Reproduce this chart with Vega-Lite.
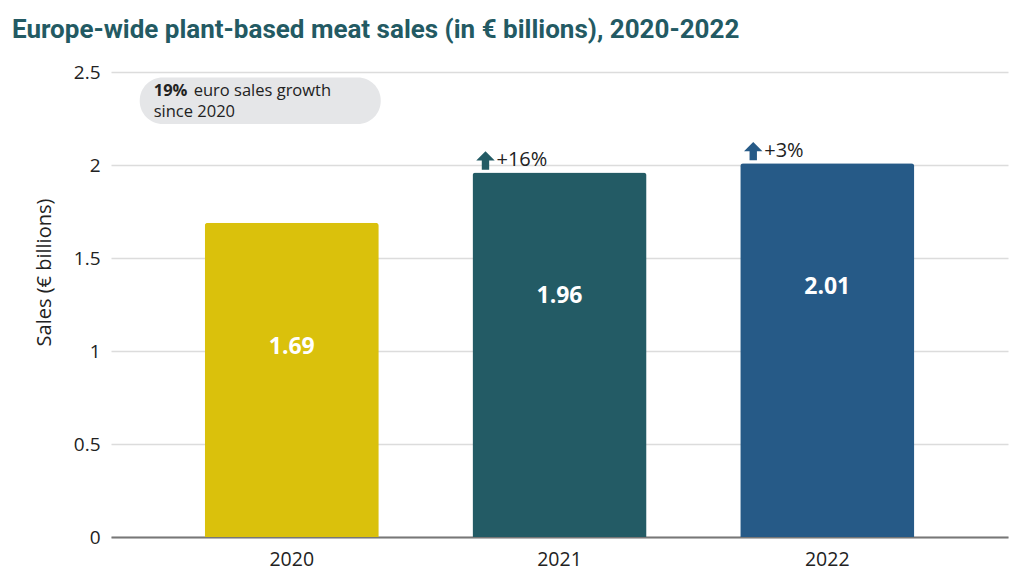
{
  "$schema": "https://vega.github.io/schema/vega-lite/v6.json",
  "width": 897,
  "height": 465,
  "autosize": {"type": "none"},
  "padding": {"left": 111, "top": 72, "right": 16, "bottom": 38},
  "background": "white",
  "title": {
    "text": "Europe-wide plant-based meat sales (in € billions), 2020-2022",
    "anchor": "start",
    "frame": "group",
    "dx": -99,
    "offset": 20,
    "font": "Roboto",
    "fontSize": 26,
    "fontWeight": "bold",
    "color": "#235a63"
  },
  "config": {
    "view": {"stroke": null},
    "font": "Open Sans",
    "axis": {
      "labelFont": "Open Sans",
      "titleFont": "Open Sans",
      "labelColor": "#222222",
      "titleColor": "#222222"
    }
  },
  "data": {
    "values": [
      {"year": "2020", "sales": 1.69, "label": "1.69", "change": null},
      {"year": "2021", "sales": 1.96, "label": "1.96", "change": "+16%"},
      {"year": "2022", "sales": 2.01, "label": "2.01", "change": "+3%"}
    ]
  },
  "encoding": {
    "x": {
      "field": "year",
      "type": "nominal",
      "scale": {"paddingInner": 0.35, "paddingOuter": 0.35},
      "axis": {
        "title": null,
        "labelAngle": 0,
        "labelFontSize": 19.5,
        "labelPadding": 13,
        "ticks": false,
        "domain": true,
        "domainColor": "#777777",
        "domainWidth": 2
      }
    }
  },
  "layer": [
    {
      "mark": {"type": "bar", "cornerRadiusTopLeft": 3, "cornerRadiusTopRight": 3},
      "encoding": {
        "y": {
          "field": "sales",
          "type": "quantitative",
          "scale": {"domain": [0, 2.5], "nice": false},
          "axis": {
            "title": "Sales (€ billions)",
            "titleFontSize": 20,
            "titleFontWeight": "normal",
            "titlePadding": 19,
            "titleY": 200,
            "values": [0, 0.5, 1, 1.5, 2, 2.5],
            "labelFontSize": 19,
            "labelPadding": 11,
            "ticks": false,
            "domain": false,
            "gridColor": "#dcdcdc",
            "gridWidth": 1.5,
            "format": "~g"
          }
        },
        "color": {
          "field": "year",
          "type": "nominal",
          "scale": {"domain": ["2020", "2021", "2022"], "range": ["#dac10c", "#235b65", "#265a87"]},
          "legend": null
        }
      }
    },
    {
      "mark": {"type": "text", "color": "white", "fontWeight": "bold", "fontSize": 23, "font": "Open Sans", "baseline": "middle", "dy": 124},
      "encoding": {
        "y": {"field": "sales", "type": "quantitative"},
        "text": {"field": "label"}
      }
    },
    {
      "transform": [{"filter": "datum.change != null"}],
      "mark": {
        "type": "point",
        "shape": "M0,-1 L1,0 L0.4,0 L0.4,1 L-0.4,1 L-0.4,0 L-1,0 Z",
        "filled": true,
        "opacity": 1,
        "size": 340,
        "xOffset": 13,
        "yOffset": -12
      },
      "encoding": {
        "x": {"field": "year", "type": "nominal", "bandPosition": 0},
        "y": {"field": "sales", "type": "quantitative"},
        "color": {"field": "year", "type": "nominal", "legend": null}
      }
    },
    {
      "transform": [{"filter": "datum.change != null"}],
      "mark": {"type": "text", "align": "left", "baseline": "middle", "fontSize": 20, "font": "Open Sans", "color": "#222222", "dx": 24, "dy": -12},
      "encoding": {
        "x": {"field": "year", "type": "nominal", "bandPosition": 0},
        "y": {"field": "sales", "type": "quantitative"},
        "text": {"field": "change"}
      }
    },
    {
      "data": {"values": [{"note": "box"}]},
      "mark": {"type": "rect", "color": "#e5e6e8", "cornerRadius": 23, "xOffset": -65, "x2Offset": 89},
      "encoding": {
        "x": {"datum": "2020", "type": "nominal", "bandPosition": 0},
        "x2": {"datum": "2020"},
        "y": {"datum": 2.47, "type": "quantitative"},
        "y2": {"datum": 2.22}
      }
    },
    {
      "data": {"values": [{"t": "19%"}]},
      "mark": {"type": "text", "align": "left", "baseline": "middle", "fontSize": 16.5, "fontWeight": "bold", "font": "Open Sans", "color": "#222222", "dx": -51},
      "encoding": {
        "x": {"datum": "2020", "type": "nominal", "bandPosition": 0},
        "y": {"datum": 2.4, "type": "quantitative"},
        "text": {"field": "t"}
      }
    },
    {
      "data": {"values": [{"t": "euro sales growth"}]},
      "mark": {"type": "text", "align": "left", "baseline": "middle", "fontSize": 16.5, "font": "Open Sans", "color": "#222222", "dx": -11},
      "encoding": {
        "x": {"datum": "2020", "type": "nominal", "bandPosition": 0},
        "y": {"datum": 2.4, "type": "quantitative"},
        "text": {"field": "t"}
      }
    },
    {
      "data": {"values": [{"t": "since 2020"}]},
      "mark": {"type": "text", "align": "left", "baseline": "middle", "fontSize": 16.5, "font": "Open Sans", "color": "#222222", "dx": -51},
      "encoding": {
        "x": {"datum": "2020", "type": "nominal", "bandPosition": 0},
        "y": {"datum": 2.285, "type": "quantitative"},
        "text": {"field": "t"}
      }
    }
  ]
}
